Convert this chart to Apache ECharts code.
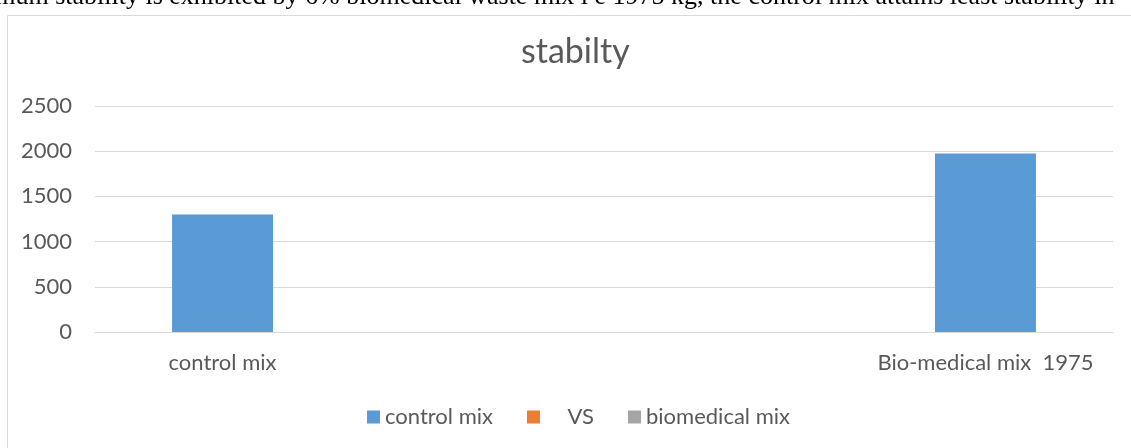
<!DOCTYPE html>
<html>
<head>
<meta charset="utf-8">
<script src="https://cdn.jsdelivr.net/npm/echarts@6/dist/echarts.min.js"></script>
<style>
  html, body { margin: 0; padding: 0; background: #fff; }
  #chart { width: 1131px; height: 448px; }
</style>
</head>
<body>
<div id="chart"></div>
<script>
var categories = ['control mix', 'Bio-medical mix  1975'];
var controlMix = [1300, '-'];
var vs = ['-', '-'];
var biomedicalMix = ['-', 1975];
var yTicks = [0, 500, 1000, 1500, 2000, 2500];

var blue = '#5B9BD5';
var font = 'Lato, "Open Sans", sans-serif';

var chart = echarts.init(document.getElementById('chart'));

chart.setOption({
    animation: false,
    backgroundColor: '#fff',
    title: {
        text: 'stabilty',
        left: 516,
        top: 30,
        textStyle: { fontFamily: font, fontSize: 34, fontWeight: 'normal', color: '#595959' }
    },
    graphic: [
        {
            // sliver of the document text above the chart
            type: 'text',
            x: -12,
            y: 10,
            style: {
                text: 'imum stability is exhibited by 6% biomedical waste mix i e 1975 kg, the control mix attains least stability in',
                fontFamily: '"Liberation Serif", serif',
                fontSize: 26,
                fill: '#000',
                verticalAlign: 'bottom'
            }
        },
        {
            type: 'rect',
            shape: { x: 7.5, y: 15.5, width: 1130, height: 440 },
            style: { fill: 'none', stroke: '#D9D9D9', lineWidth: 1 },
            z: -1
        }
    ],
    legend: {
        top: 401,
        left: 362,
        itemWidth: 13,
        itemHeight: 13,
        itemGap: 34,
        icon: 'rect',
        textStyle: { fontFamily: font, fontSize: 22, color: '#595959' },
        data: ['control mix', '    VS', 'biomedical mix']
    },
    grid: { left: 95, right: 18, top: 106, bottom: 116 },
    xAxis: {
        type: 'category',
        data: categories,
        axisLine: { lineStyle: { color: '#D9D9D9' } },
        axisTick: { show: false },
        axisLabel: {
            margin: 20,
            fontFamily: font,
            fontSize: 22,
            color: '#595959',
            // labels sit under the bars, not at the category centre
            formatter: function (v, i) {
                return i === 0 ? '{l|' + v + '}' : '{r|' + v + '}';
            },
            rich: {
                l: { fontFamily: font, fontSize: 22, color: '#595959', padding: [0, 254, 0, 0] },
                r: { fontFamily: font, fontSize: 22, color: '#595959', padding: [0, 0, 0, 254] }
            }
        }
    },
    yAxis: {
        type: 'value',
        min: yTicks[0],
        max: yTicks[yTicks.length - 1],
        interval: 500,
        axisLine: { show: false },
        axisTick: { show: false },
        axisLabel: {
            margin: 23,
            fontFamily: font,
            fontSize: 22,
            color: '#595959',
            formatter: function (v) { return String(v); }
        },
        splitLine: { lineStyle: { color: '#D9D9D9' } }
    },
    series: [
        {
            name: 'control mix',
            type: 'bar',
            data: controlMix,
            barWidth: 101,
            barGap: '25.7%',
            itemStyle: { color: blue }
        },
        {
            name: '    VS',
            type: 'bar',
            data: vs,
            barWidth: 101,
            itemStyle: { color: '#ED7D31' }
        },
        {
            name: 'biomedical mix',
            type: 'bar',
            data: biomedicalMix.map(function (v) {
                return v === '-' ? v : { value: v, itemStyle: { color: blue } };
            }),
            barWidth: 101,
            itemStyle: { color: '#A5A5A5' }
        }
    ]
});
</script>
</body>
</html>
